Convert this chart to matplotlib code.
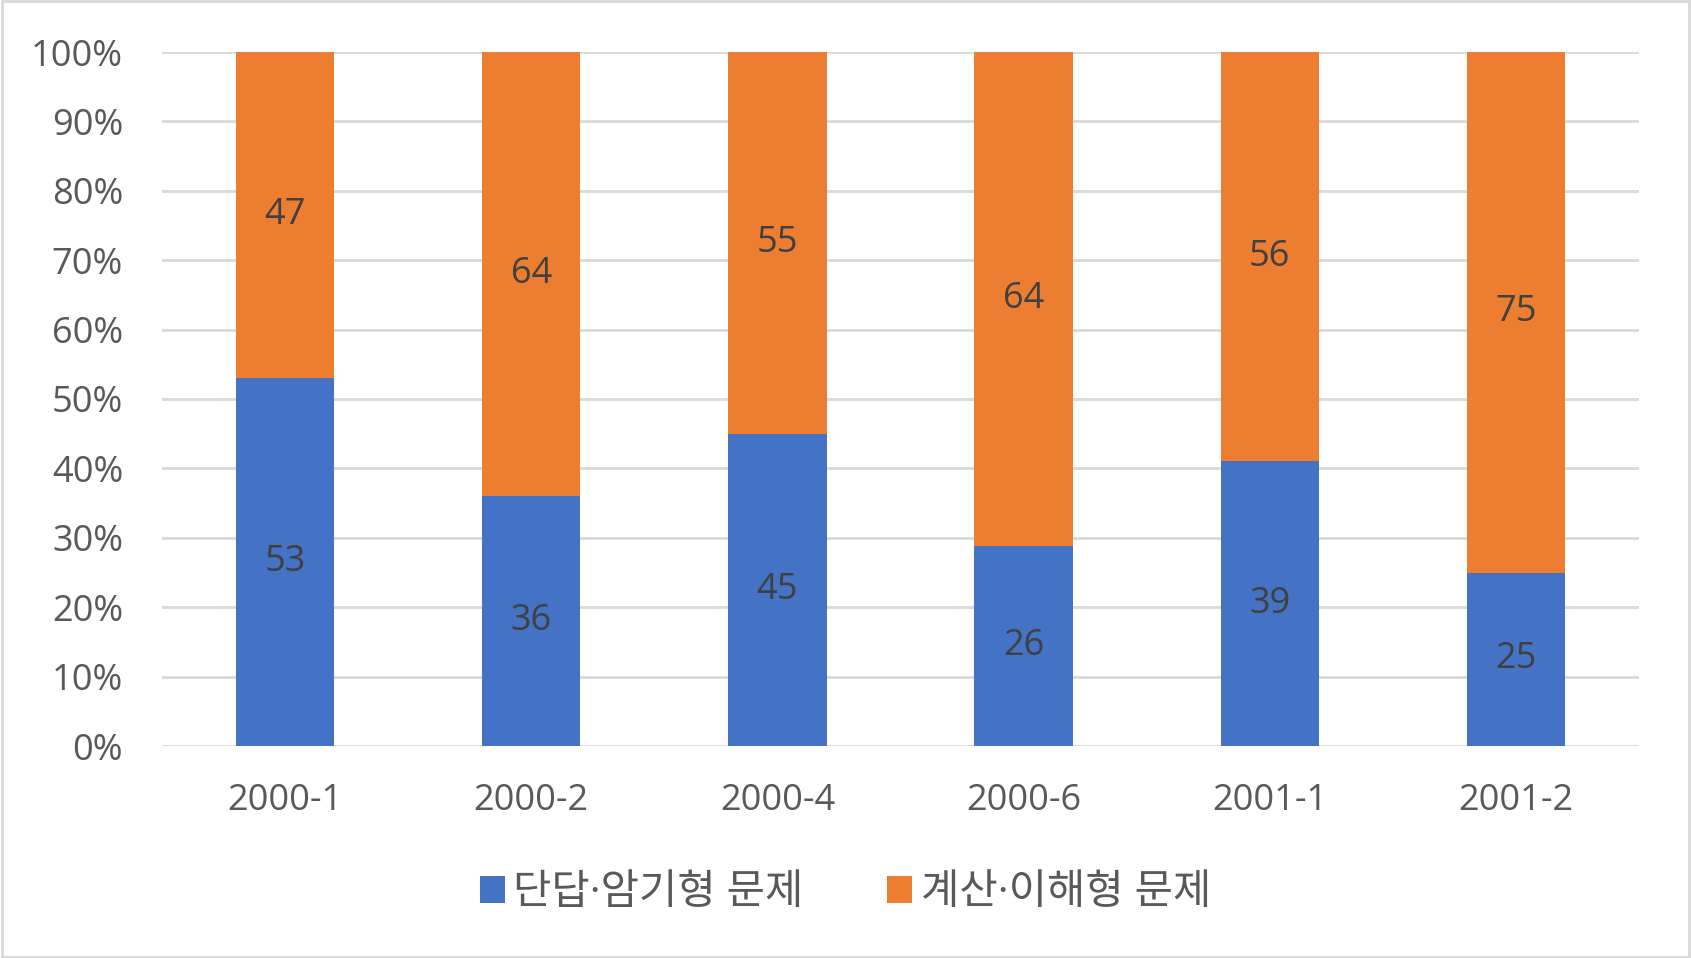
import numpy as np
import matplotlib.pyplot as plt
from matplotlib.patches import Rectangle

plt.rcParams['font.family'] = ['Open Sans', 'Noto Sans CJK KR', 'DejaVu Sans']

categories = ['2000-1', '2000-2', '2000-4', '2000-6', '2001-1', '2001-2']
short_answer = [53, 36, 45, 26, 39, 25]
calculation = [47, 64, 55, 64, 56, 75]
series_names = ['단답·암기형 문제', '계산·이해형 문제']

blue = '#4472C4'
orange = '#ED7D31'
text_color = '#595959'

a = np.array(short_answer, dtype=float)
b = np.array(calculation, dtype=float)
total = a + b
pa = a / total * 100
pb = b / total * 100

fig = plt.figure(figsize=(16.91, 9.58), dpi=100)
ax = fig.add_axes([162 / 1691, 1 - 746 / 958, (1639 - 162) / 1691, (746 - 52) / 958])

x = np.arange(len(categories))
w = 0.40
bars_a = ax.bar(x, pa, w, color=blue, label=series_names[0], zorder=2)
bars_b = ax.bar(x, pb, w, bottom=pa, color=orange, label=series_names[1], zorder=2)

for i in range(len(categories)):
    ax.text(x[i], pa[i] / 2, f'{short_answer[i]}', ha='center', va='center',
            fontsize=26, color='#404040', zorder=3)
    ax.text(x[i], pa[i] + pb[i] / 2, f'{calculation[i]}', ha='center', va='center',
            fontsize=26, color='#404040', zorder=3)

ax.set_xlim(-0.5, len(categories) - 0.5)
ax.set_ylim(0, 100)
ax.set_yticks(np.arange(0, 101, 10))
ax.set_yticklabels([f'{v}%' for v in range(0, 101, 10)])
ax.set_xticks(x)
ax.set_xticklabels(categories)
ax.tick_params(axis='both', length=0, labelsize=26, colors=text_color)
ax.tick_params(axis='y', pad=28)
ax.tick_params(axis='x', pad=27)
ax.grid(axis='y', color='#D9D9D9', linewidth=2, zorder=0)
for s in ax.spines.values():
    s.set_visible(False)

leg = fig.legend(handles=[bars_a, bars_b], labels=series_names, loc='center',
                 bbox_to_anchor=(0.5, 1 - 893 / 958), ncol=2, frameon=False,
                 fontsize=30, handlelength=0.6, handleheight=0.6, handletextpad=0.2,
                 columnspacing=2.0)
for t in leg.get_texts():
    t.set_color(text_color)

fig.patches.append(Rectangle((0.001, 0.001), 0.998, 0.998, transform=fig.transFigure,
                             fill=False, edgecolor='#D9D9D9', linewidth=2))

fig.savefig('out.png', dpi=100)
